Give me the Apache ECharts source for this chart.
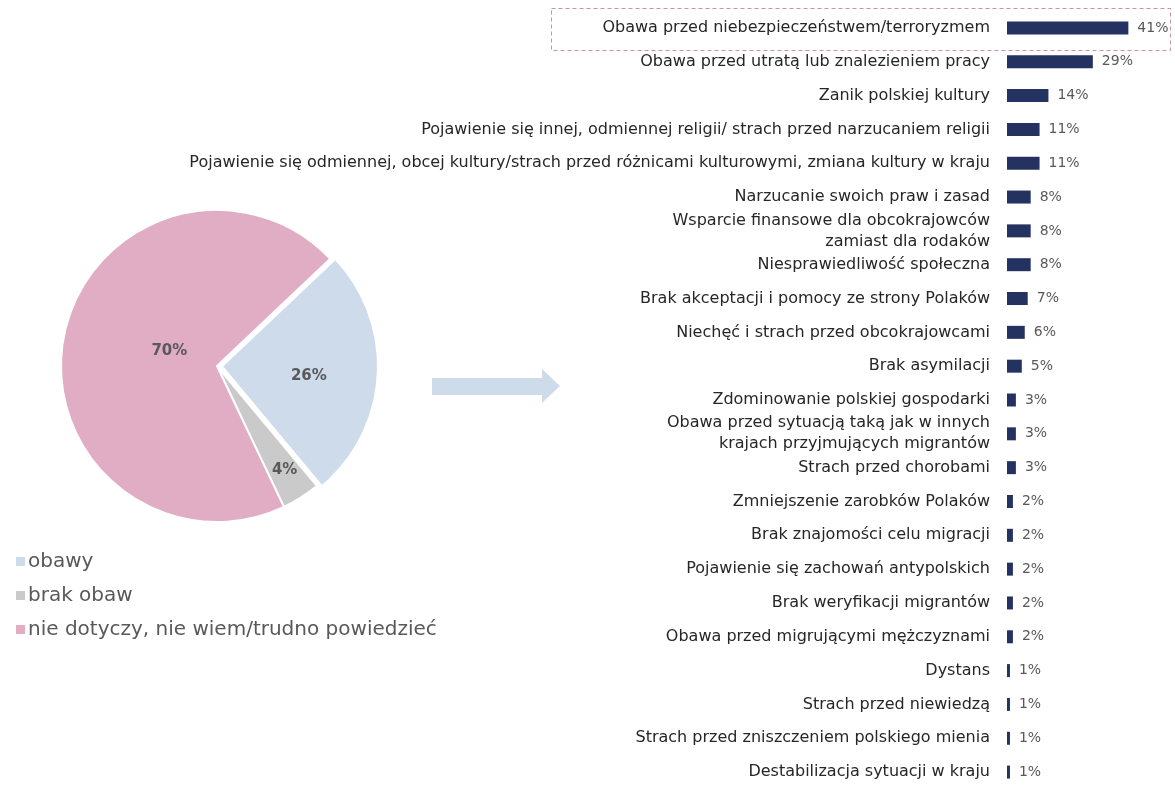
<!DOCTYPE html>
<html>
<head>
<meta charset="utf-8">
<script src="https://cdn.jsdelivr.net/npm/echarts@6/dist/echarts.min.js"></script>
<style>
html,body{margin:0;padding:0;background:#fff;}
#main{width:1175px;height:789px;}
</style>
</head>
<body>
<div id="main"></div>
<script>
// dane do wykresu kołowego
var pieNames = ["obawy", "brak obaw", "nie dotyczy, nie wiem/trudno powiedzieć"];
var pieValues = [26, 4, 70];
var pieColors = ["#cddbea", "#cbcaca", "#e1adc4"];

// dane do wykresu słupkowego
var barNames = [
	"Obawa przed niebezpieczeństwem/terroryzmem",
	"Obawa przed utratą lub znalezieniem pracy",
	"Zanik polskiej kultury",
	"Pojawienie się innej, odmiennej religii/ strach przed narzucaniem religii",
	"Pojawienie się odmiennej, obcej kultury/strach przed różnicami kulturowymi, zmiana kultury w kraju",
	"Narzucanie swoich praw i zasad",
	"Wsparcie finansowe dla obcokrajowców\nzamiast dla rodaków",
	"Niesprawiedliwość społeczna",
	"Brak akceptacji i pomocy ze strony Polaków",
	"Niechęć i strach przed obcokrajowcami",
	"Brak asymilacji",
	"Zdominowanie polskiej gospodarki",
	"Obawa przed sytuacją taką jak w innych\nkrajach przyjmujących migrantów",
	"Strach przed chorobami",
	"Zmniejszenie zarobków Polaków",
	"Brak znajomości celu migracji",
	"Pojawienie się zachowań antypolskich",
	"Brak weryfikacji migrantów",
	"Obawa przed migrującymi mężczyznami",
	"Dystans",
	"Strach przed niewiedzą",
	"Strach przed zniszczeniem polskiego mienia",
	"Destabilizacja sytuacji w kraju"
];
var barValues = [41, 29, 14, 11, 11, 8, 8, 8, 7, 6, 5, 3, 3, 3, 2, 2, 2, 2, 2, 1, 1, 1, 1];

var myChart = echarts.init(document.getElementById('main'));

// przesunięcia etykiet procentowych na kole
var pieLabelShift = [[6, 5], [24, 36], [32, 0]];

var pieData = [];
for (var i in pieNames) {
	pieData.push({
		name: pieNames[i],
		value: pieValues[i],
		selected: i == 0,
		itemStyle: { color: pieColors[i] }
	});
}

var option = {
	animation: false,
	textStyle: { fontFamily: "DejaVu Sans" },
	legend: {
		orient: "vertical",
		left: 9,
		top: 546,
		itemWidth: 11,
		itemHeight: 11,
		itemGap: 13,
		icon: "rect",
		selectedMode: false,
		data: pieNames,
		textStyle: {
			color: "#595959",
			fontSize: 20,
			lineHeight: 21,
			padding: [0, 0, 0, -3]
		}
	},
	grid: {
		left: 1007,
		top: 11,
		width: 148,
		height: 782
	},
	xAxis: {
		type: "value",
		min: 0,
		max: 50,
		show: false
	},
	yAxis: {
		type: "category",
		inverse: true,
		data: barNames,
		axisLine: { show: false },
		axisTick: { show: false },
		axisLabel: {
			margin: 17,
			color: "#262626",
			fontSize: 16,
			lineHeight: 21
		}
	},
	series: [{
		type: "bar",
		data: barValues,
		barWidth: 13,
		itemStyle: { color: "#243261" },
		label: {
			show: true,
			position: "right",
			distance: 9,
			color: "#595959",
			fontSize: 14,
			formatter: "{c}%"
		}
	}, {
		type: "pie",
		center: [217, 366],
		radius: 156,
		startAngle: 43.4,
		selectedMode: "multiple",
		selectedOffset: 5,
		data: pieData,
		itemStyle: { borderColor: "#fff", borderWidth: 2 },
		label: {
			show: true,
			position: "inside",
			formatter: "{c}%",
			color: "#595959",
			fontSize: 15,
			fontWeight: "bold"
		},
		labelLayout: function (params) {
			var s = pieLabelShift[params.dataIndex];
			return { dx: s[0], dy: s[1] };
		},
		emphasis: { disabled: true }
	}],
	graphic: [{
		type: "rect",
		shape: { x: 551.5, y: 8.5, width: 619, height: 42 },
		style: { fill: "none", stroke: "#cf8fa5", lineWidth: 1, lineDash: [4, 3] }
	}, {
		type: "polygon",
		shape: {
			points: [[432, 378], [542, 378], [542, 369], [560, 386], [542, 403], [542, 395], [432, 395]]
		},
		style: { fill: "#cddbea" }
	}]
};
myChart.setOption(option);
</script>
</body>
</html>
